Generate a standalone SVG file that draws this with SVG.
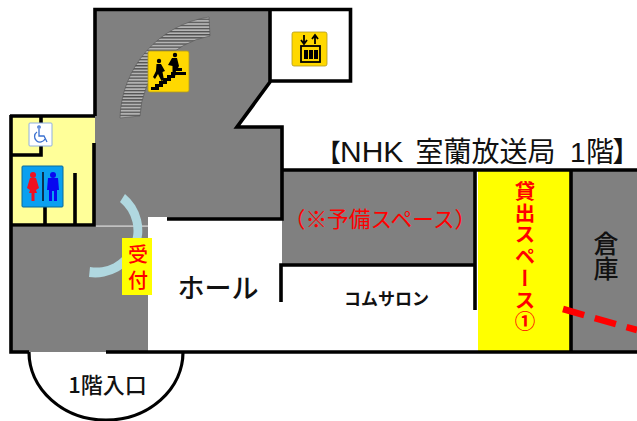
<svg xmlns="http://www.w3.org/2000/svg" width="637" height="421" viewBox="0 0 637 421">
<style>
.wall{fill:none;stroke:#000;stroke-width:3.6;stroke-linejoin:miter}
.gray{fill:#808080}
.jp{font-family:"Noto Sans CJK JP","Noto Sans",sans-serif}
.red{fill:#f00}
.blk{fill:#111}
.sign{fill:#ffd800;stroke:#b09a20;stroke-width:.8}
.v{writing-mode:vertical-rl;text-anchor:start}
.palt{font-feature-settings:"palt"}
</style>
<defs>
<pattern id="stripes" width="6" height="3.1" patternUnits="userSpaceOnUse">
<rect width="6" height="3.1" fill="#b4b4b4"/>
<rect width="6" height="1.300" fill="#505050"/>
</pattern>
</defs>
<rect width="637" height="421" fill="#fff"/>

<g id="floor">
<path class="gray" d="M95 10H270V82L237 127H282V219H167V217H148V226H95V10Z"/>
<rect class="gray" x="11" y="226" width="137" height="126"/>
<rect x="11" y="225.500" width="137" height="1.200" fill="#ddd"/>
<rect class="gray" x="282" y="170" width="194" height="95"/>
<rect class="gray" x="571" y="170" width="66" height="182"/>
<rect x="12" y="117" width="83" height="108" fill="#ffff99"/>
<rect x="478" y="171" width="92" height="180" fill="#ff0"/>
</g>

<g id="stairs">
<path d="M209 17A105 105 0 0 0 120 118L140 116A85 85 0 0 1 210 36Z" fill="url(#stripes)" stroke="#555" stroke-width=".6"/>
</g>

<g id="connectors">
<path class="wall" d="M95 116V9.500H350.500V81H270M270 9.500V82L237 127H282V219H167"/>
<path class="wall" d="M10 116H95M11 115V352H29M106 352H637M94 143V225H11M41 116V155H11M75 173V225M45 207V225"/>
<path class="wall" d="M282 170H637M281 302V265H476M475 170V310M571 170V352"/>
<path d="M29 352A77 68 0 0 0 183 352" fill="none" stroke="#000" stroke-width="3.200"/>
<path d="M563 309L637 330" fill="none" stroke="#f00" stroke-width="6.500" stroke-dasharray="22 11"/>
</g>

<g id="door">
<path d="M125 194A47 47 0 0 1 89 277L90 267A37 37 0 0 0 120 202Z" fill="#b0d8e0"/>
</g>

<g id="stairs-sign">
<rect class="sign" x="148" y="51" width="41" height="41" rx="2"/>
<path d="M151 90V87H155V84H159V81H163V78H167V75H171V72H186V75H175V78H171V81H167V84H163V87H159V90Z" fill="#000"/>
<circle cx="159" cy="61" r="2.200"/><circle cx="175" cy="55" r="2.200"/>
<path d="M156.500 64H161L165 71L162.500 72L164 80L161.500 81L158 74L155 79L153 77L156 71Z M172 58H177L179 66L178 68H182V71H176L175 77H172.500V66L168 65Z" fill="#000"/>
</g>

<g id="elevator-sign">
<rect class="sign" x="292" y="32" width="35" height="34" rx="2"/>
<path d="M304 35V43M301 40L304 44L307 40M315 44V36M312 39L315 35L318 39" fill="none" stroke="#000" stroke-width="1.800"/>
<rect x="301" y="46" width="19" height="16" fill="#ffd800" stroke="#000" stroke-width="1.800"/>
<path d="M304 50H308V59H304ZM309 50H313V59H309ZM314 50H318V59H314Z" fill="#000"/>
</g>

<g id="wheelchair-sign">
<rect x="29" y="123" width="23" height="23" rx="1" fill="#fff" stroke="#8fb0e0"/>
<g fill="none" stroke="#3a70d0" stroke-width="1.300">
<circle cx="39" cy="127" r="1.200"/>
<path d="M39 129V136H44L47 142"/>
<path d="M37 132A5.500 5.500 0 1 0 45 139"/>
</g>
</g>

<g id="restroom-sign">
<rect x="22" y="166" width="41" height="41" rx="1" fill="#0aa0f0" stroke="#0a6a9a"/>
<circle cx="33" cy="175" r="3" fill="#f01020"/>
<path d="M30 178H36L39 188L36 190L37 193H34.500V201H31.500V193H29L30 190L27 188Z" fill="#f01020"/>
<rect x="42" y="172" width="2" height="29" fill="#0a3050"/>
<circle cx="53" cy="175" r="3" fill="#0808f0"/>
<path d="M48 178H58L59 190H57V201H54V191H52V201H49V190H47Z" fill="#0808f0"/>
</g>

<g id="reception">
<rect x="122" y="238" width="30" height="57" fill="#ff0"/>
<text class="jp red" x="138" y="262" font-size="20" font-weight="500" text-anchor="middle">受</text>
<text class="jp red" x="138" y="288" font-size="20" font-weight="500" text-anchor="middle">付</text>
</g>

<g id="hall"><text class="jp blk" x="218" y="298" font-size="27" font-weight="500" text-anchor="middle">ホール</text></g>
<g id="salon"><text class="jp blk" x="386.500" y="305" font-size="17" font-weight="700" text-anchor="middle">コムサロン</text></g>
<g id="entrance"><text class="jp blk" x="107.500" y="392.500" font-size="22" font-weight="500" text-anchor="middle">1階入口</text></g>
<g id="title"><text class="blk" y="162" font-size="28" font-family="'Liberation Sans','Noto Sans CJK JP',sans-serif"><tspan class="jp palt" x="328" font-size="25">【</tspan><tspan x="340" font-size="30">NHK </tspan><tspan class="jp" x="415.500">室蘭放送局 </tspan><tspan x="570">1</tspan><tspan class="jp" x="586">階</tspan><tspan class="jp palt" x="613">】</tspan></text></g>
<g id="spare"><text class="jp red" x="380" y="227" font-size="21.700" text-anchor="middle">（※予備スペース）</text></g>
<g id="rental"><text class="jp red v" x="525" y="181" font-size="20.500" font-weight="700" letter-spacing="1.200">貸出スペース①</text></g>
<g id="storage"><text class="jp blk v" x="606" y="231" font-size="25" font-weight="500">倉庫</text></g>
</svg>
